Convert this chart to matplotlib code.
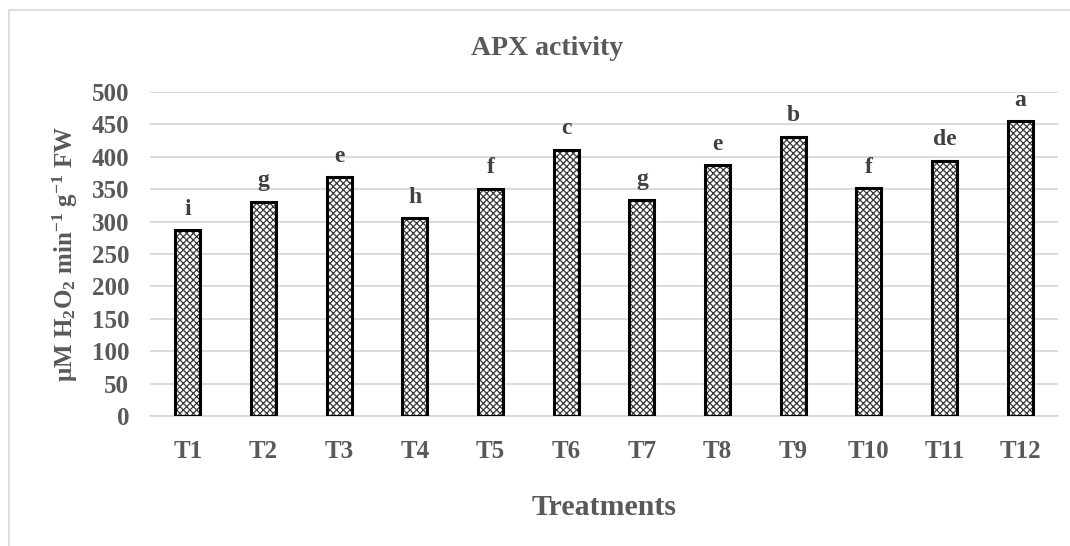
import matplotlib.pyplot as plt
import numpy as np
from matplotlib.patches import Rectangle

TREATMENTS = ["T1", "T2", "T3", "T4", "T5", "T6", "T7", "T8", "T9", "T10", "T11", "T12"]
APX = [287, 331, 369, 305, 351, 411, 333, 387, 431, 352, 394, 455]
LETTERS = ["i", "g", "e", "h", "f", "c", "g", "e", "b", "f", "de", "a"]
Y_TICKS = list(range(0, 501, 50))

TEXT_GRAY = "#595959"
GRID_GRAY = "#d9d9d9"

plt.rcParams.update(
    {
        "font.family": "Liberation Serif",
        "font.weight": "bold",
        "mathtext.fontset": "custom",
        "mathtext.rm": "Liberation Serif:bold",
        "mathtext.it": "Liberation Serif:bold",
        "mathtext.bf": "Liberation Serif:bold",
        "hatch.linewidth": 0.9,
    }
)

fig = plt.figure(figsize=(10.7, 5.46), dpi=100)
ax = fig.add_axes([150 / 1070, 1 - 416 / 546, 908 / 1070, 324 / 546])

x = np.arange(len(TREATMENTS))
width = 0.33

# hatch layer (dark grey crosshatch), then black outline on top
ax.bar(x, APX, width, color="white", edgecolor="#3a3a3a", hatch="xxxxx", linewidth=0, zorder=2)
bars = ax.bar(x, APX, width, fill=False, edgecolor="black", linewidth=2.2, zorder=3)

for bar, lab in zip(bars, LETTERS):
    ax.annotate(
        lab,
        (bar.get_x() + bar.get_width() / 2, bar.get_height()),
        xytext=(0, 11),
        textcoords="offset points",
        ha="center",
        va="baseline",
        fontsize=17,
        fontweight="bold",
        color="#404040",
    )

ax.set_xlim(-0.5, len(TREATMENTS) - 0.5)
ax.set_ylim(0, 500)
ax.set_yticks(Y_TICKS)
ax.set_xticks(x)
ax.set_xticklabels(TREATMENTS)
ax.tick_params(axis="y", length=0, pad=15, labelsize=18, labelcolor=TEXT_GRAY)
ax.tick_params(axis="x", length=0, pad=17, labelsize=18, labelcolor=TEXT_GRAY)
for lbl in ax.get_xticklabels() + ax.get_yticklabels():
    lbl.set_fontweight("bold")

ax.yaxis.grid(True, color=GRID_GRAY, linewidth=1.3)
ax.set_axisbelow(True)
for side in ["top", "right", "left"]:
    ax.spines[side].set_visible(False)
ax.spines["bottom"].set_color(GRID_GRAY)
ax.spines["bottom"].set_linewidth(1.3)

ax.set_ylabel(
    r"μM H$_2$O$_2$ min$^{-1}$ g$^{-1}$ FW",
    fontsize=18,
    fontweight="bold",
    color=TEXT_GRAY,
    labelpad=8,
)
fig.text(547 / 1070, 1 - 55 / 546, "APX activity", ha="center", va="baseline",
         fontsize=20, fontweight="bold", color=TEXT_GRAY)
fig.text(604 / 1070, 1 - 515 / 546, "Treatments", ha="center", va="baseline",
         fontsize=21.5, fontweight="bold", color=TEXT_GRAY)

# light border of the chart area
fig.patches.append(
    Rectangle((9 / 1070, -0.1), 1.2, 1.1 - 10 / 546, transform=fig.transFigure,
              fill=False, edgecolor=GRID_GRAY, linewidth=1.2)
)

fig.savefig("out.png", dpi=100)
